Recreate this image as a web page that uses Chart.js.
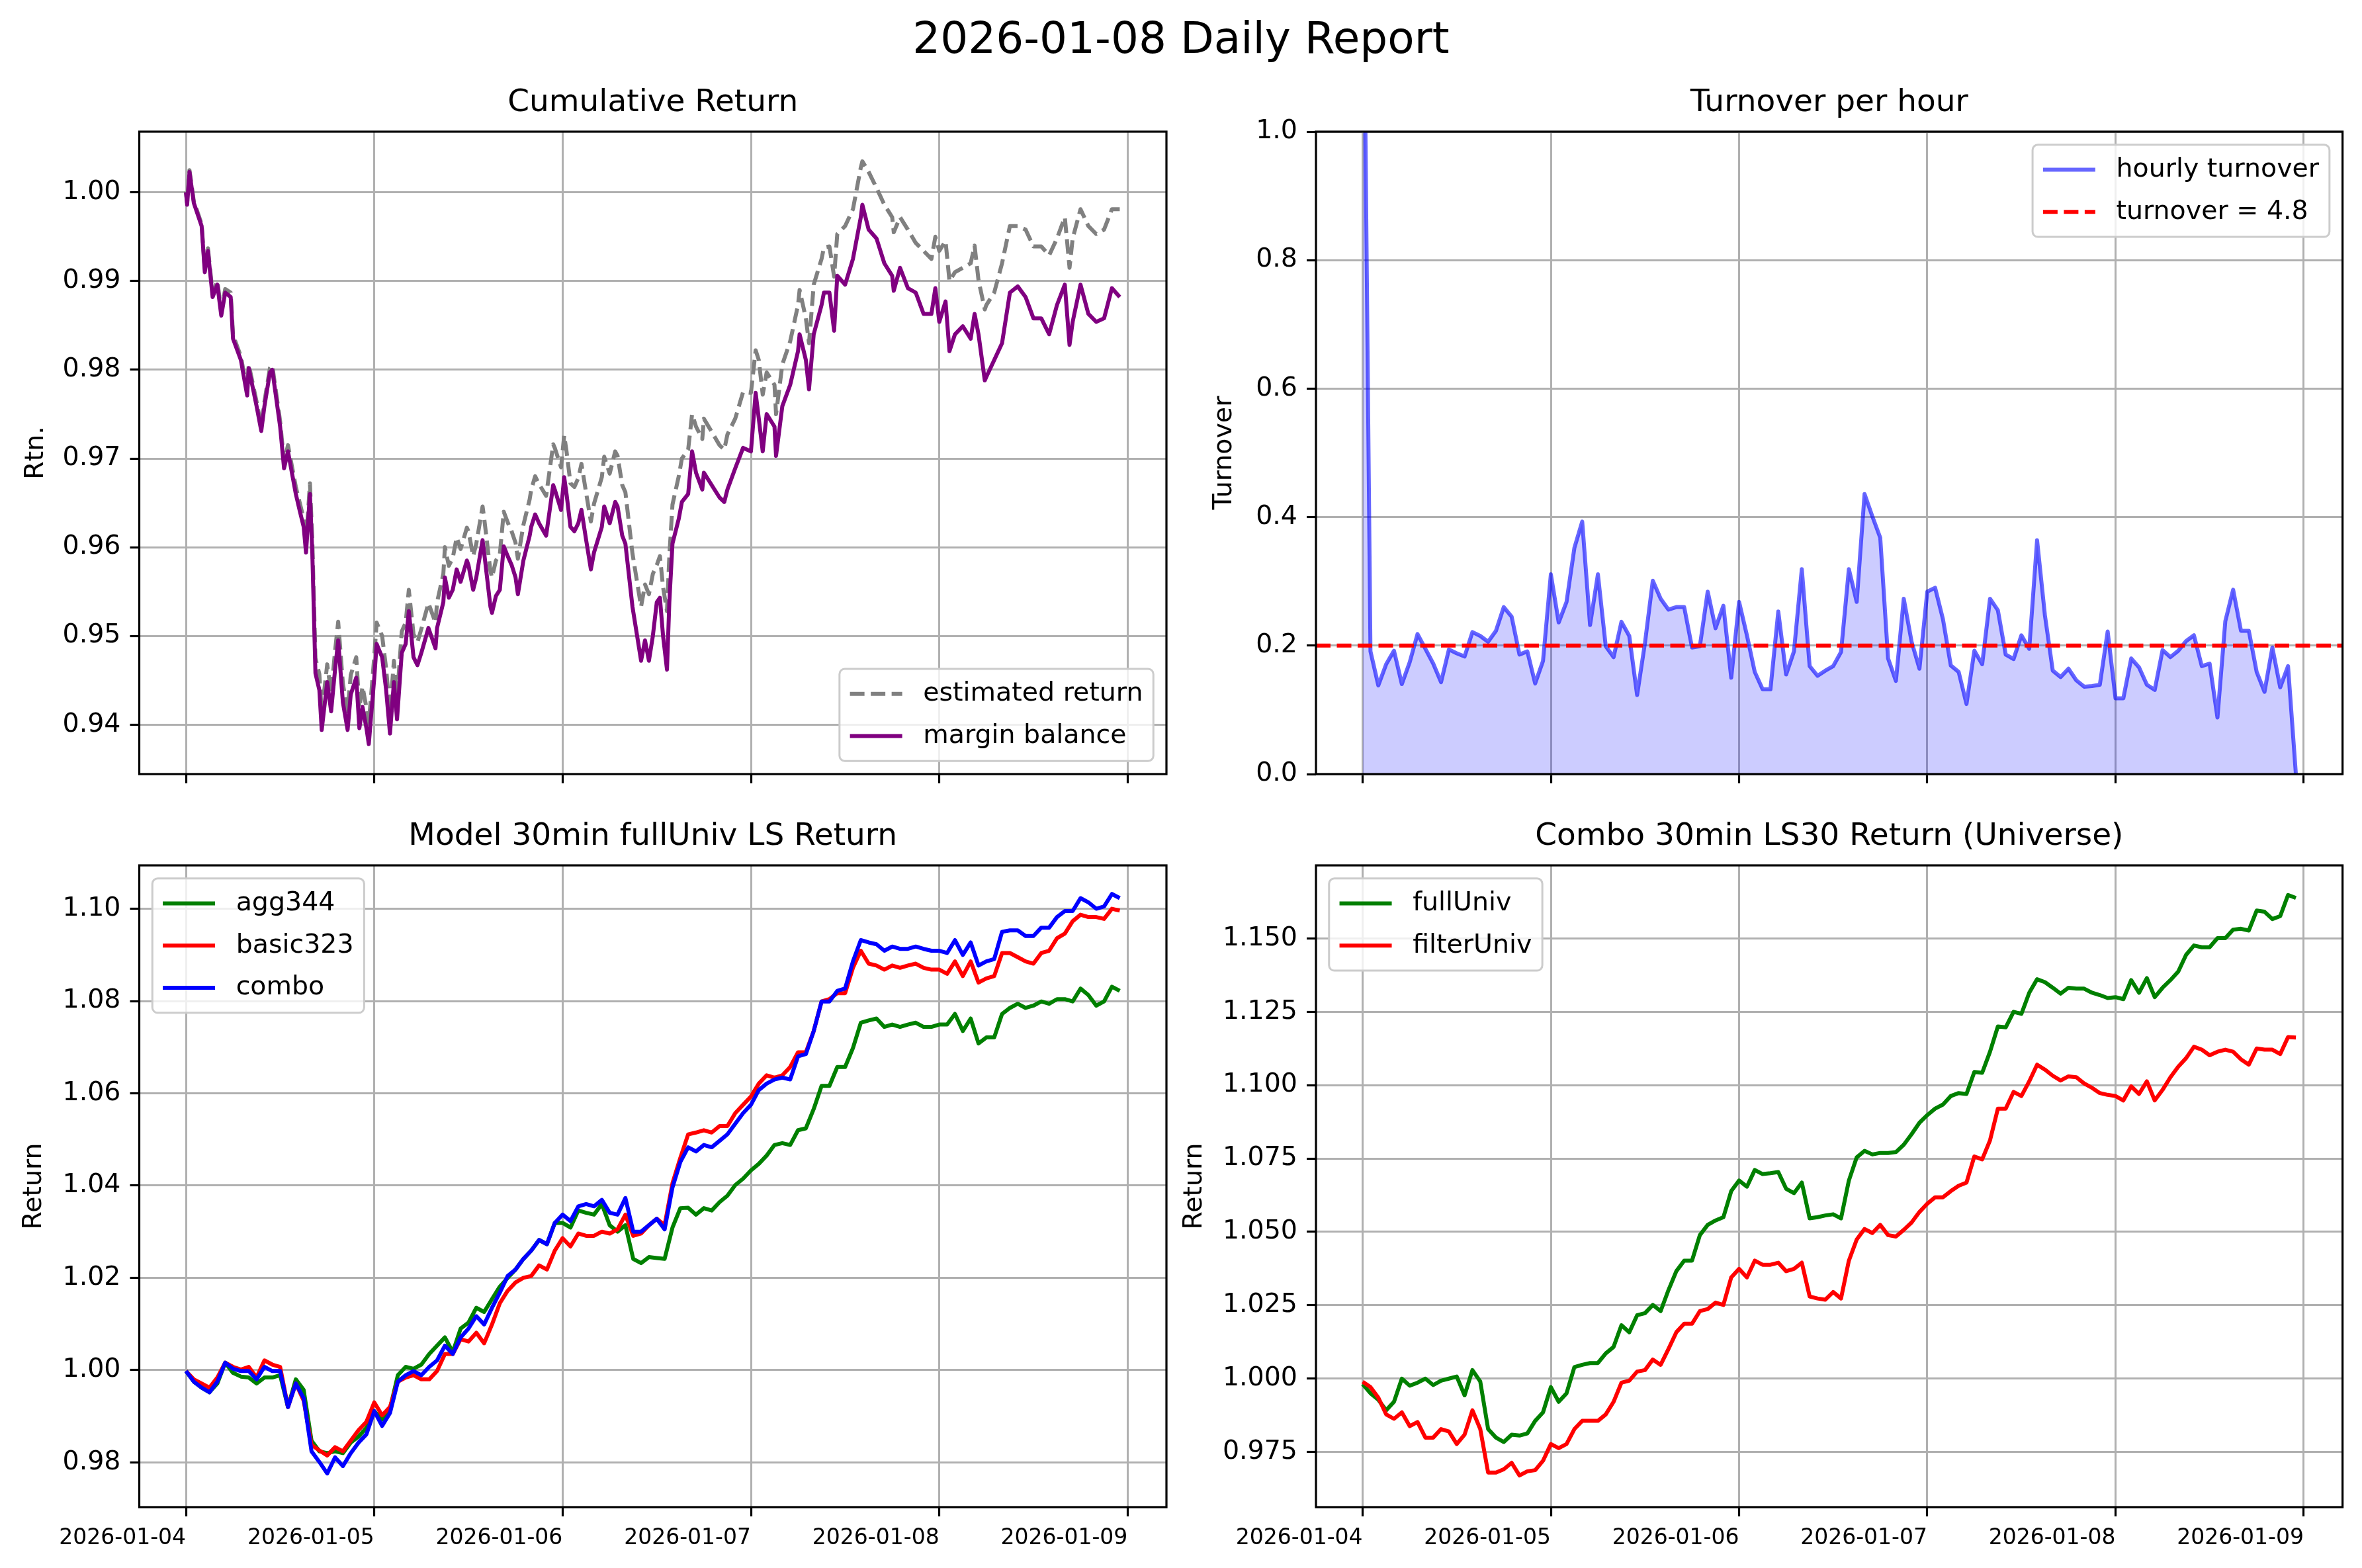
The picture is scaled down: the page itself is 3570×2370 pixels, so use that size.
<!DOCTYPE html>
<html>
<head>
<meta charset="utf-8">
<script src="https://cdn.jsdelivr.net/npm/chart.js@4.4.1/dist/chart.umd.min.js"></script>
<style>
  body { margin: 0; background: #fff; overflow: hidden; }
  #fig { position: relative; width: 3570px; height: 2370px; background: #fff; }
  #fig canvas { position: absolute; }
  #suptitle { position: absolute; left: 1785px; top: 57px; transform: translate(-50%, -50%);
    font-family: 'DejaVu Sans', sans-serif; font-size: 66px; white-space: nowrap; color: #000; }
</style>
</head>
<body>
<div id="fig">
  <div id="suptitle">2026-01-08 Daily Report</div>
</div>
<script>
// x axis: hours since 2026-01-04 00:00
var xMin = -5.95, xMax = 124.95;
var xTickHours = [0, 24, 48, 72, 96, 120];
var xTickLabels = ["2026-01-04", "2026-01-05", "2026-01-06", "2026-01-07", "2026-01-08", "2026-01-09"];

// hourly index used by turnover and the 30min return panels
var hours = [0,1,2,3,4,5,6,7,8,9,10,11,12,13,14,15,16,17,18,19,
  20,21,22,23,24,25,26,27,28,29,30,31,32,33,34,35,36,37,38,39,
  40,41,42,43,44,45,46,47,48,49,50,51,52,53,54,55,56,57,58,59,
  60,61,62,63,64,65,66,67,68,69,70,71,72,73,74,75,76,77,78,79,
  80,81,82,83,84,85,86,87,88,89,90,91,92,93,94,95,96,97,98,99,
  100,101,102,103,104,105,106,107,108,109,110,111,112,113,114,115,116,117,118,119];

// --- Cumulative Return ---
var cumHours = [0,0.15,0.45,1,1.5,2,2.4,2.8,3.4,4,
  4.5,5,5.7,6,7,7.8,8,9,9.6,10,
  10.7,11,12,12.5,13,14,14.5,15,15.3,15.8,
  16.1,16.5,17,17.3,18,18.5,19,19.4,20,20.6,
  21,21.7,22.1,22.5,23,23.3,24,24.3,25,25.5,
  26,26.5,26.9,27.5,28,28.4,29,29.5,30,30.9,
  31.8,32,32.8,33,33.5,34,34.5,35,35.8,36,
  36.6,37,37.8,38,38.8,39,39.5,40,40.5,41,
  41.5,42,42.3,43,43.8,44,44.5,45,45.9,46.8,
  47,47.8,48.2,48.5,49,49.5,50,50.4,51,51.6,
  52,53,53.3,54,54.7,55,55.6,56,56.9,58,
  58.5,59,59.5,60,60.4,60.8,61.3,61.6,62,62.8,
  63.2,64,64.5,65,65.8,66,67,68,68.6,69,
  70,71,72,72.6,73,73.5,74,75,75.2,76,
  77,78,78.2,79,79.4,80,81,81.3,82,82.6,
  83,84,85,86,86.2,87,88,89,90,90.2,
  91,92,93,94,95,95.5,96,96.8,97.3,98,
  99,100,100.5,101,101.8,102,103,104,105,106,
  107,108,109,110,111,112,112.6,113,114,115,
  116,117,118,119];
var marginBalance = [1.0000,0.9986,1.0023,0.9988,0.9975,0.9962,0.9910,0.9934,0.9882,0.9896,
  0.9861,0.9887,0.9882,0.9835,0.9811,0.9771,0.9802,0.9759,0.9731,0.9759,
  0.9797,0.9800,0.9736,0.9689,0.9708,0.9660,0.9641,0.9623,0.9594,0.9660,
  0.9594,0.9458,0.9439,0.9394,0.9448,0.9415,0.9462,0.9495,0.9425,0.9394,
  0.9434,0.9453,0.9396,0.9420,0.9396,0.9378,0.9453,0.9491,0.9476,0.9440,
  0.9390,0.9448,0.9406,0.9481,0.9491,0.9528,0.9476,0.9467,0.9481,0.9509,
  0.9486,0.9509,0.9538,0.9566,0.9543,0.9552,0.9575,0.9561,0.9585,0.9580,
  0.9552,0.9566,0.9608,0.9594,0.9533,0.9526,0.9545,0.9552,0.9601,0.9590,
  0.9580,0.9566,0.9547,0.9585,0.9613,0.9623,0.9637,0.9627,0.9613,0.9670,
  0.9665,0.9642,0.9679,0.9660,0.9623,0.9618,0.9627,0.9642,0.9608,0.9575,
  0.9594,0.9623,0.9646,0.9627,0.9651,0.9646,0.9613,0.9604,0.9533,0.9472,
  0.9495,0.9472,0.9500,0.9538,0.9543,0.9500,0.9462,0.9538,0.9604,0.9632,
  0.9651,0.9660,0.9708,0.9684,0.9665,0.9684,0.9670,0.9656,0.9651,0.9665,
  0.9689,0.9712,0.9708,0.9774,0.9745,0.9708,0.9750,0.9736,0.9703,0.9759,
  0.9783,0.9821,0.9840,0.9811,0.9778,0.9840,0.9873,0.9887,0.9887,0.9844,
  0.9906,0.9896,0.9925,0.9972,0.9986,0.9958,0.9948,0.9920,0.9906,0.9889,
  0.9915,0.9892,0.9887,0.9863,0.9863,0.9892,0.9854,0.9877,0.9821,0.9840,
  0.9849,0.9835,0.9863,0.9840,0.9788,0.9792,0.9811,0.9830,0.9887,0.9894,
  0.9882,0.9858,0.9858,0.9840,0.9873,0.9896,0.9828,0.9854,0.9896,0.9863,
  0.9854,0.9858,0.9892,0.9882];
var estimatedReturn = [1.0001,0.9988,1.0025,0.9990,0.9977,0.9964,0.9913,0.9937,0.9886,0.9900,
  0.9866,0.9891,0.9887,0.9839,0.9815,0.9776,0.9806,0.9764,0.9736,0.9764,
  0.9802,0.9805,0.9742,0.9696,0.9715,0.9668,0.9650,0.9632,0.9604,0.9672,
  0.9608,0.9475,0.9457,0.9413,0.9468,0.9435,0.9483,0.9516,0.9446,0.9415,
  0.9456,0.9476,0.9419,0.9443,0.9419,0.9401,0.9477,0.9515,0.9500,0.9464,
  0.9414,0.9472,0.9430,0.9505,0.9515,0.9552,0.9502,0.9493,0.9508,0.9537,
  0.9515,0.9538,0.9570,0.9600,0.9579,0.9588,0.9611,0.9598,0.9622,0.9618,
  0.9590,0.9604,0.9646,0.9633,0.9573,0.9566,0.9585,0.9592,0.9640,0.9628,
  0.9618,0.9605,0.9587,0.9625,0.9654,0.9665,0.9680,0.9671,0.9658,0.9716,
  0.9712,0.9690,0.9726,0.9708,0.9672,0.9668,0.9678,0.9694,0.9661,0.9629,
  0.9649,0.9679,0.9702,0.9683,0.9708,0.9703,0.9670,0.9662,0.9593,0.9533,
  0.9558,0.9547,0.9570,0.9580,0.9590,0.9555,0.9528,0.9590,0.9648,0.9680,
  0.9700,0.9710,0.9750,0.9736,0.9722,0.9745,0.9730,0.9715,0.9710,0.9727,
  0.9745,0.9775,0.9774,0.9822,0.9811,0.9772,0.9797,0.9783,0.9750,0.9806,
  0.9832,0.9873,0.9890,0.9858,0.9830,0.9896,0.9925,0.9938,0.9939,0.9905,
  0.9953,0.9962,0.9981,1.0028,1.0035,1.0023,1.0005,0.9986,0.9972,0.9955,
  0.9972,0.9958,0.9943,0.9934,0.9925,0.9950,0.9934,0.9945,0.9900,0.9910,
  0.9915,0.9920,0.9940,0.9901,0.9868,0.9873,0.9887,0.9920,0.9962,0.9962,
  0.9958,0.9939,0.9939,0.9929,0.9948,0.9972,0.9915,0.9948,0.9981,0.9962,
  0.9953,0.9958,0.9981,0.9981];
var cumYTicks = [0.94, 0.95, 0.96, 0.97, 0.98, 0.99, 1.00];

// --- Turnover per hour ---
var hourlyTurnover = [1.45,0.191,0.138,0.171,0.192,0.140,0.174,0.218,0.195,0.172,
  0.143,0.194,0.188,0.183,0.221,0.215,0.206,0.223,0.260,0.245,
  0.186,0.191,0.141,0.176,0.311,0.236,0.268,0.352,0.393,0.232,
  0.311,0.199,0.182,0.237,0.215,0.123,0.204,0.301,0.273,0.256,
  0.260,0.260,0.197,0.199,0.284,0.227,0.262,0.150,0.268,0.216,
  0.159,0.132,0.132,0.253,0.155,0.191,0.319,0.168,0.153,0.161,
  0.168,0.190,0.319,0.268,0.436,0.401,0.368,0.180,0.145,0.273,
  0.206,0.164,0.284,0.290,0.241,0.169,0.159,0.109,0.192,0.171,
  0.273,0.255,0.186,0.179,0.216,0.195,0.364,0.247,0.161,0.151,
  0.164,0.146,0.136,0.137,0.139,0.222,0.118,0.118,0.180,0.166,
  0.139,0.131,0.193,0.182,0.192,0.207,0.216,0.168,0.172,0.088,
  0.238,0.287,0.223,0.223,0.159,0.128,0.197,0.135,0.168,0.000];
var turnoverTarget = 0.2;   // 4.8 per day / 24
var turnYTicks = [0, 0.2, 0.4, 0.6, 0.8, 1.0];

// --- Model 30min fullUniv LS Return ---
var agg344 = [0.9998,0.9975,0.9962,0.9952,0.9971,1.0016,0.9994,0.9986,0.9984,0.9971,
  0.9984,0.9984,0.9989,0.9920,0.9980,0.9957,0.9847,0.9824,0.9820,0.9824,
  0.9820,0.9843,0.9856,0.9875,0.9911,0.9893,0.9916,0.9989,1.0007,1.0003,
  1.0012,1.0035,1.0053,1.0071,1.0039,1.0090,1.0103,1.0135,1.0126,1.0154,
  1.0181,1.0200,1.0218,1.0241,1.0259,1.0282,1.0273,1.0319,1.0319,1.0309,
  1.0346,1.0341,1.0337,1.0360,1.0314,1.0300,1.0314,1.0241,1.0232,1.0245,
  1.0243,1.0241,1.0309,1.0351,1.0352,1.0337,1.0351,1.0346,1.0364,1.0378,
  1.0401,1.0415,1.0433,1.0447,1.0465,1.0488,1.0492,1.0488,1.0520,1.0524,
  1.0566,1.0616,1.0616,1.0657,1.0657,1.0698,1.0753,1.0758,1.0762,1.0744,
  1.0749,1.0744,1.0749,1.0753,1.0744,1.0744,1.0749,1.0749,1.0772,1.0735,
  1.0762,1.0708,1.0721,1.0721,1.0772,1.0785,1.0794,1.0785,1.0790,1.0799,
  1.0794,1.0804,1.0804,1.0799,1.0827,1.0813,1.0790,1.0799,1.0831,1.0822];
var basic323 = [0.9998,0.9980,0.9971,0.9962,0.9984,1.0016,1.0007,1.0001,1.0007,0.9984,
  1.0021,1.0012,1.0007,0.9920,0.9971,0.9934,0.9838,0.9826,0.9815,0.9833,
  0.9824,0.9847,0.9870,0.9888,0.9930,0.9902,0.9920,0.9975,0.9984,0.9989,
  0.9980,0.9980,0.9998,1.0035,1.0035,1.0067,1.0062,1.0081,1.0058,1.0099,
  1.0145,1.0172,1.0190,1.0200,1.0204,1.0227,1.0218,1.0259,1.0286,1.0268,
  1.0296,1.0291,1.0291,1.0300,1.0296,1.0305,1.0337,1.0291,1.0296,1.0314,
  1.0328,1.0314,1.0405,1.0460,1.0511,1.0515,1.0520,1.0515,1.0529,1.0529,
  1.0557,1.0575,1.0593,1.0621,1.0639,1.0634,1.0639,1.0657,1.0689,1.0689,
  1.0735,1.0799,1.0804,1.0817,1.0817,1.0872,1.0909,1.0881,1.0877,1.0868,
  1.0877,1.0872,1.0877,1.0881,1.0872,1.0868,1.0868,1.0859,1.0886,1.0854,
  1.0886,1.0840,1.0849,1.0854,1.0904,1.0904,1.0895,1.0886,1.0881,1.0904,
  1.0909,1.0936,1.0946,1.0973,1.0987,1.0982,1.0982,1.0978,1.1000,1.0996];
var combo = [0.9998,0.9975,0.9962,0.9952,0.9975,1.0016,1.0003,0.9998,0.9998,0.9980,
  1.0007,0.9998,0.9998,0.9920,0.9971,0.9939,0.9824,0.9801,0.9776,0.9811,
  0.9792,0.9820,0.9843,0.9861,0.9911,0.9879,0.9907,0.9975,0.9989,0.9998,
  0.9989,1.0007,1.0021,1.0053,1.0035,1.0071,1.0090,1.0117,1.0099,1.0135,
  1.0168,1.0204,1.0218,1.0241,1.0259,1.0282,1.0273,1.0319,1.0337,1.0323,
  1.0355,1.0360,1.0355,1.0369,1.0341,1.0337,1.0373,1.0300,1.0300,1.0314,
  1.0328,1.0305,1.0396,1.0451,1.0483,1.0474,1.0488,1.0483,1.0497,1.0511,
  1.0534,1.0557,1.0575,1.0607,1.0621,1.0630,1.0634,1.0630,1.0680,1.0685,
  1.0735,1.0799,1.0799,1.0822,1.0827,1.0886,1.0932,1.0927,1.0923,1.0909,
  1.0918,1.0913,1.0913,1.0918,1.0913,1.0909,1.0909,1.0904,1.0932,1.0900,
  1.0927,1.0877,1.0886,1.0891,1.0950,1.0953,1.0953,1.0941,1.0941,1.0959,
  1.0959,1.0982,1.0995,1.0995,1.1023,1.1014,1.1000,1.1005,1.1032,1.1023];
var modelYTicks = [0.98, 1.00, 1.02, 1.04, 1.06, 1.08, 1.10];

// --- Combo 30min LS30 Return (Universe) ---
var fullUniv = [0.9981,0.9950,0.9928,0.9892,0.9921,1.0000,0.9976,0.9986,1.0000,0.9978,
  0.9993,1.0000,1.0007,0.9943,1.0029,0.9990,0.9828,0.9799,0.9784,0.9809,
  0.9806,0.9813,0.9856,0.9885,0.9971,0.9921,0.9950,1.0039,1.0047,1.0053,
  1.0053,1.0086,1.0108,1.0182,1.0158,1.0216,1.0223,1.0251,1.0230,1.0302,
  1.0366,1.0402,1.0402,1.0489,1.0524,1.0539,1.0550,1.0639,1.0675,1.0654,
  1.0711,1.0697,1.0700,1.0704,1.0647,1.0632,1.0668,1.0546,1.0550,1.0556,
  1.0560,1.0546,1.0675,1.0754,1.0776,1.0764,1.0769,1.0769,1.0772,1.0797,
  1.0833,1.0872,1.0898,1.0920,1.0934,1.0963,1.0973,1.0970,1.1045,1.1042,
  1.1114,1.1200,1.1197,1.1250,1.1243,1.1315,1.1361,1.1351,1.1332,1.1312,
  1.1332,1.1329,1.1329,1.1315,1.1307,1.1297,1.1300,1.1293,1.1358,1.1315,
  1.1365,1.1300,1.1332,1.1358,1.1387,1.1444,1.1476,1.1470,1.1470,1.1501,
  1.1501,1.1530,1.1533,1.1527,1.1595,1.1591,1.1566,1.1576,1.1648,1.1638];
var filterUniv = [0.9989,0.9971,0.9935,0.9878,0.9863,0.9885,0.9838,0.9852,0.9799,0.9799,
  0.9828,0.9820,0.9777,0.9809,0.9892,0.9828,0.9680,0.9680,0.9691,0.9713,
  0.9670,0.9684,0.9688,0.9720,0.9777,0.9763,0.9777,0.9828,0.9856,0.9856,
  0.9856,0.9878,0.9921,0.9986,0.9993,1.0024,1.0029,1.0065,1.0047,1.0101,
  1.0158,1.0187,1.0187,1.0230,1.0237,1.0259,1.0251,1.0345,1.0374,1.0345,
  1.0402,1.0388,1.0388,1.0395,1.0366,1.0374,1.0395,1.0280,1.0273,1.0269,
  1.0295,1.0273,1.0402,1.0474,1.0510,1.0496,1.0524,1.0489,1.0484,1.0507,
  1.0532,1.0568,1.0596,1.0618,1.0618,1.0639,1.0657,1.0668,1.0757,1.0747,
  1.0812,1.0920,1.0920,1.0977,1.0963,1.1013,1.1070,1.1053,1.1032,1.1016,
  1.1030,1.1027,1.1006,1.0991,1.0973,1.0967,1.0963,1.0948,1.0996,1.0970,
  1.1013,1.0948,1.0984,1.1027,1.1063,1.1092,1.1131,1.1121,1.1102,1.1114,
  1.1121,1.1114,1.1088,1.1070,1.1125,1.1121,1.1121,1.1106,1.1164,1.1162];
var comboYTicks = [0.975, 1.000, 1.025, 1.050, 1.075, 1.100, 1.125, 1.150];

Chart.defaults.font.family = "'DejaVu Sans', sans-serif";
Chart.defaults.color = '#000';

var GRID = '#b0b0b0';

function pts(xs, ys) {
  return xs.map(function (x, i) { return { x: x, y: ys[i] }; });
}

// draws the four spines on top of the lines
var frame = {
  id: 'frame',
  afterDatasetsDraw: function (chart) {
    var a = chart.chartArea, ctx = chart.ctx;
    ctx.save();
    ctx.strokeStyle = '#000';
    ctx.lineWidth = 3.2;
    ctx.strokeRect(a.left, a.top, a.right - a.left, a.bottom - a.top);
    ctx.restore();
  }
};

// matplotlib-style legend box inside the plot area
var mplLegend = {
  id: 'mplLegend',
  afterDraw: function (chart, args, opts) {
    var ctx = chart.ctx, a = chart.chartArea;
    var fs = 39.5, pad = 0.4 * fs, handle = 2 * fs, gap = 0.8 * fs, rowH = 44, space = 0.5 * fs, off = 0.5 * fs;
    var items = chart.data.datasets.filter(function (d) { return d.label; });
    ctx.save();
    ctx.font = fs + "px 'DejaVu Sans'";
    var tw = 0;
    items.forEach(function (d) { tw = Math.max(tw, ctx.measureText(d.label).width); });
    var w = 2 * pad + handle + gap + tw;
    var h = 2 * pad + items.length * rowH + (items.length - 1) * space;
    var x = opts.loc.indexOf('right') >= 0 ? a.right - off - w : a.left + off;
    var y = opts.loc.indexOf('lower') >= 0 ? a.bottom - off - h : a.top + off;
    ctx.beginPath();
    ctx.roundRect(x, y, w, h, 8);
    ctx.fillStyle = 'rgba(255,255,255,0.8)';
    ctx.fill();
    ctx.lineWidth = 3;
    ctx.strokeStyle = '#cccccc';
    ctx.stroke();
    items.forEach(function (d, i) {
      var cy = y + pad + i * (rowH + space) + rowH / 2;
      ctx.beginPath();
      ctx.setLineDash(d.borderDash || []);
      ctx.lineWidth = d.borderWidth;
      ctx.strokeStyle = d.borderColor;
      ctx.moveTo(x + pad, cy);
      ctx.lineTo(x + pad + handle, cy);
      ctx.stroke();
      ctx.setLineDash([]);
      ctx.fillStyle = '#000';
      ctx.textBaseline = 'middle';
      ctx.textAlign = 'left';
      ctx.fillText(d.label, x + pad + handle + gap, cy);
    });
    ctx.restore();
  }
};

function xScale(showLabels, height) {
  return {
    type: 'linear', min: xMin, max: xMax,
    afterBuildTicks: function (s) { s.ticks = xTickHours.map(function (v) { return { value: v }; }); },
    afterFit: function (s) { s.height = height; s.paddingLeft = 0; s.paddingRight = 0; },
    ticks: {
      display: showLabels, autoSkip: false, maxRotation: 0, minRotation: 0, align: 'end', padding: 14,
      font: { size: 33 },
      callback: function (v, i) { return xTickLabels[i]; }
    },
    grid: { color: GRID, lineWidth: 3, tickColor: '#000', tickWidth: 3.2, tickLength: 14 },
    border: { display: false }
  };
}

function yScale(min, max, ticks, decimals, title, width, titlePad) {
  return {
    type: 'linear', min: min, max: max,
    afterBuildTicks: function (s) { s.ticks = ticks.map(function (v) { return { value: v }; }); },
    afterFit: function (s) { s.width = width; },
    ticks: {
      autoSkip: false, padding: 14, font: { size: 39.5 },
      callback: function (v) { return Number(v).toFixed(decimals); }
    },
    grid: { color: GRID, lineWidth: 3, tickColor: '#000', tickWidth: 3.2, tickLength: 14 },
    border: { display: false },
    title: { display: true, text: title, font: { size: 39.5 }, padding: { top: titlePad, bottom: 0 } }
  };
}

function line(label, xs, ys, color, order, dash) {
  return {
    label: label, data: pts(xs, ys), borderColor: color, borderWidth: 6,
    borderDash: dash || [], pointRadius: 0, tension: 0, fill: false, clip: 0,
    borderJoinStyle: 'round', order: order
  };
}

function makeChart(box, datasets, title, titleTop, xs, ys, legendLoc) {
  var c = document.createElement('canvas');
  c.width = box.w; c.height = box.h;
  c.style.left = box.x + 'px'; c.style.top = box.y + 'px';
  c.style.width = box.w + 'px'; c.style.height = box.h + 'px';
  document.getElementById('fig').appendChild(c);
  return new Chart(c, {
    type: 'line',
    data: { datasets: datasets },
    plugins: [frame, mplLegend],
    options: {
      responsive: false, animation: false, devicePixelRatio: 1,
      layout: { padding: { left: 0, top: 0, right: box.padR, bottom: 0 } },
      scales: { x: xs, y: ys },
      plugins: {
        legend: { display: false },
        tooltip: { enabled: false },
        title: {
          display: true, text: title, fullSize: false, color: '#000',
          font: { size: 47, weight: 'normal' }, padding: { top: titleTop, bottom: 14.8 }
        },
        mplLegend: { loc: legendLoc }
      }
    }
  });
}

// Cumulative Return
makeChart({ x: 0, y: 100, w: 1790, h: 1110, padR: 27 }, [
    line('estimated return', cumHours, estimatedReturn, 'gray', 2, [22, 9.5]),
    line('margin balance', cumHours, marginBalance, 'purple', 1)
  ], 'Cumulative Return', 27.8,
  xScale(false, 40), yScale(0.93443, 1.00684, cumYTicks, 2, 'Rtn.', 210.5, 31.3), 'lower right');

// Turnover per hour
var turnLine = line('hourly turnover', hours, hourlyTurnover, 'rgba(0,0,255,0.6)', 2);
turnLine.fill = 'origin';
turnLine.backgroundColor = 'rgba(0,0,255,0.2)';
makeChart({ x: 1700, y: 100, w: 1870, h: 1110, padR: 29.4 }, [
    turnLine,
    line('turnover = 4.8', [xMin, xMax], [turnoverTarget, turnoverTarget], 'red', 1, [22, 9.5])
  ], 'Turnover per hour', 27.8,
  xScale(false, 40), yScale(0, 1.0, turnYTicks, 1, 'Turnover', 289, 127.3), 'upper right');

// Model 30min fullUniv LS Return
makeChart({ x: 0, y: 1200, w: 1790, h: 1170, padR: 27 }, [
    line('agg344', hours, agg344, 'green', 3),
    line('basic323', hours, basic323, 'red', 2),
    line('combo', hours, combo, 'blue', 1)
  ], 'Model 30min fullUniv LS Return', 36.8,
  xScale(true, 92), yScale(0.9703, 1.1094, modelYTicks, 2, 'Return', 210.5, 28.3), 'upper left');

// Combo 30min LS30 Return (Universe)
makeChart({ x: 1700, y: 1200, w: 1870, h: 1170, padR: 29.4 }, [
    line('fullUniv', hours, fullUniv, 'green', 2),
    line('filterUniv', hours, filterUniv, 'red', 1)
  ], 'Combo 30min LS30 Return (Universe)', 36.8,
  xScale(true, 92), yScale(0.9562, 1.1749, comboYTicks, 3, 'Return', 289, 82.3), 'upper left');
</script>
</body>
</html>
